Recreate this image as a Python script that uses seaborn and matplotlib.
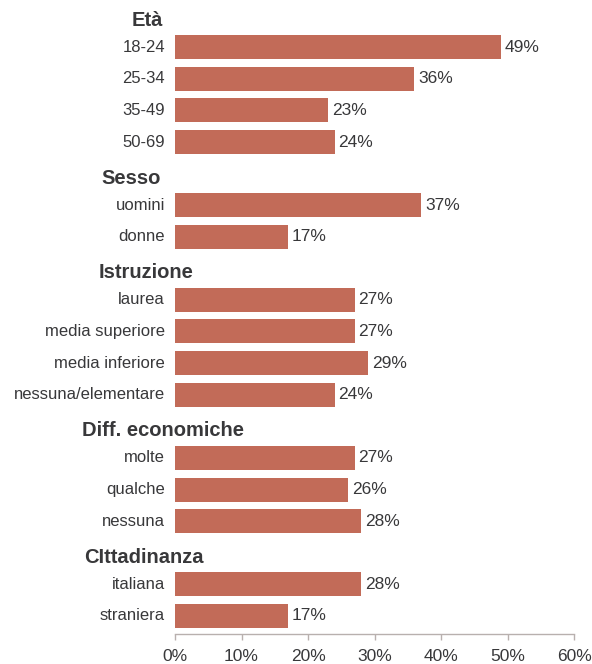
import matplotlib
matplotlib.use("Agg")
import matplotlib.pyplot as plt
import seaborn as sns
import pandas as pd

# Survey breakdown by group
groups = ["Età", "Sesso", "Istruzione", "Diff. economiche", "CIttadinanza"]
eta_labels = ["18-24", "25-34", "35-49", "50-69"]
eta_values = [49, 36, 23, 24]
sesso_labels = ["uomini", "donne"]
sesso_values = [37, 17]
istruzione_labels = ["laurea", "media superiore", "media inferiore", "nessuna/elementare"]
istruzione_values = [27, 27, 29, 24]
diff_labels = ["molte", "qualche", "nessuna"]
diff_values = [27, 26, 28]
citt_labels = ["italiana", "straniera"]
citt_values = [28, 17]
x_ticks = [0, 10, 20, 30, 40, 50, 60]

sections = [
    (groups[0], eta_labels, eta_values),
    (groups[1], sesso_labels, sesso_values),
    (groups[2], istruzione_labels, istruzione_values),
    (groups[3], diff_labels, diff_values),
    (groups[4], citt_labels, citt_values),
]

# left edge of each section header, in figure pixels
header_left_px = [131.5, 101.5, 99, 82.5, 84]

sns.set_theme(style="white")
plt.rcParams["font.family"] = ["Liberation Sans", "DejaVu Sans"]

# vertical layout in figure pixel units (top = 0)
first_header = 20.0
header_to_item = 27.0
item_step = 31.7
item_to_header = 36.0
bar_px = 24.0

rows = []
headers = []
y = first_header
for name, labels, values in sections:
    headers.append((name, y))
    y += header_to_item
    for i, (lab, val) in enumerate(zip(labels, values)):
        rows.append({"label": lab, "value": val, "pos": y})
        if i < len(labels) - 1:
            y += item_step
    y += item_to_header

df = pd.DataFrame(rows)

W, H = 592, 664
fig = plt.figure(figsize=(W / 100, H / 100), dpi=100)
ax_top, ax_bottom = 4, 634
ax = fig.add_axes([175 / W, (H - ax_bottom) / H, (574 - 175) / W, (ax_bottom - ax_top) / H])

bar_color = "#C26B58"
text_color = "#38383a"

# with native_scale, width is relative to the smallest gap between bar positions
min_gap = df["pos"].diff().dropna().min()
sns.barplot(data=df, x="value", y="pos", orient="h", native_scale=True,
            color=bar_color, saturation=1, width=bar_px / min_gap, ax=ax,
            errorbar=None, linewidth=0)

ax.set_ylim(ax_bottom, ax_top)
ax.set_xlim(0, 60)

# category labels right-aligned left of the axis, values after each bar
for _, r in df.iterrows():
    ax.text(-1.5, r["pos"], r["label"], ha="right", va="center",
            fontsize=12, color=text_color)
    ax.text(r["value"] + 0.6, r["pos"], f"{r['value']}%", ha="left", va="center",
            fontsize=12.5, color=text_color)

# bold section headers
for (name, hy), left in zip(headers, header_left_px):
    fig.text(left / W, 1 - hy / H, name, ha="left", va="center", fontsize=14.5,
             fontweight="bold", color=text_color)

ax.set_yticks([])
ax.set_ylabel("")
ax.set_xlabel("")
ax.set_xticks(x_ticks)
ax.set_xticklabels([f"{t}%" for t in x_ticks], fontsize=12.5, color=text_color)
ax.tick_params(axis="x", direction="out", length=4.5, width=1, color="#b8b0ae", pad=6,
               bottom=True)
for side in ["top", "right", "left"]:
    ax.spines[side].set_visible(False)
ax.spines["bottom"].set_color("#b8b0ae")
ax.spines["bottom"].set_linewidth(1)

fig.savefig("out.png", dpi=100)
